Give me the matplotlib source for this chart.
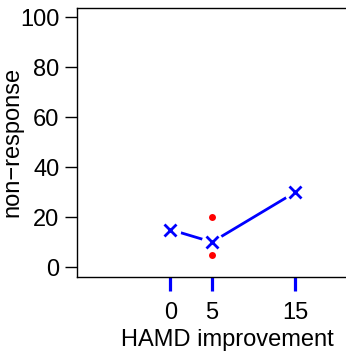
import matplotlib
matplotlib.use('Agg')
import matplotlib.pyplot as plt

# data
hamd = [0, 5, 15]
nonresp = [15, 10, 30]
extra_x = [5, 5]
extra_y = [20, 5]
xticks = [0, 5, 15]
yticks = [0, 20, 40, 60, 80, 100]

plt.rcParams['font.family'] = ['Liberation Sans', 'DejaVu Sans']
fs = 17

fig = plt.figure(figsize=(3.46, 3.51), dpi=100)
# axes runs off the right edge, like the reference
ax = fig.add_axes([0.2225, 0.2108, 0.872, 0.7678])

# line with gaps around the points (R type="b")
ax.plot(hamd, nonresp, color='blue', lw=2, zorder=2)
ax.plot(hamd, nonresp, 'o', ms=15.5, mfc='white', mec='none', zorder=3)
ax.plot(hamd, nonresp, 'x', color='blue', ms=9, mew=2, zorder=5)
ax.plot(extra_x, extra_y, 'o', color='red', ms=5, mec='none', zorder=4)

ax.set_xlim(-11.2, 25)
ax.set_ylim(-4, 104)
ax.set_xticks(xticks)
ax.set_yticks(yticks)
ax.tick_params(axis='x', colors='blue', width=2.3, length=10, labelcolor='black',
               labelsize=fs, pad=8)
ax.tick_params(axis='y', width=1, length=8.6, labelsize=fs, pad=4)

for s in ['left', 'top', 'bottom']:
    ax.spines[s].set_linewidth(1)
ax.spines['right'].set_visible(False)

ax.set_xlabel('HAMD improvement', fontsize=fs, labelpad=3.5)
ax.set_ylabel('non\u2212response', fontsize=fs)
ax.yaxis.set_label_coords(-0.177, 0.5)

fig.savefig('out.png', dpi=100)
